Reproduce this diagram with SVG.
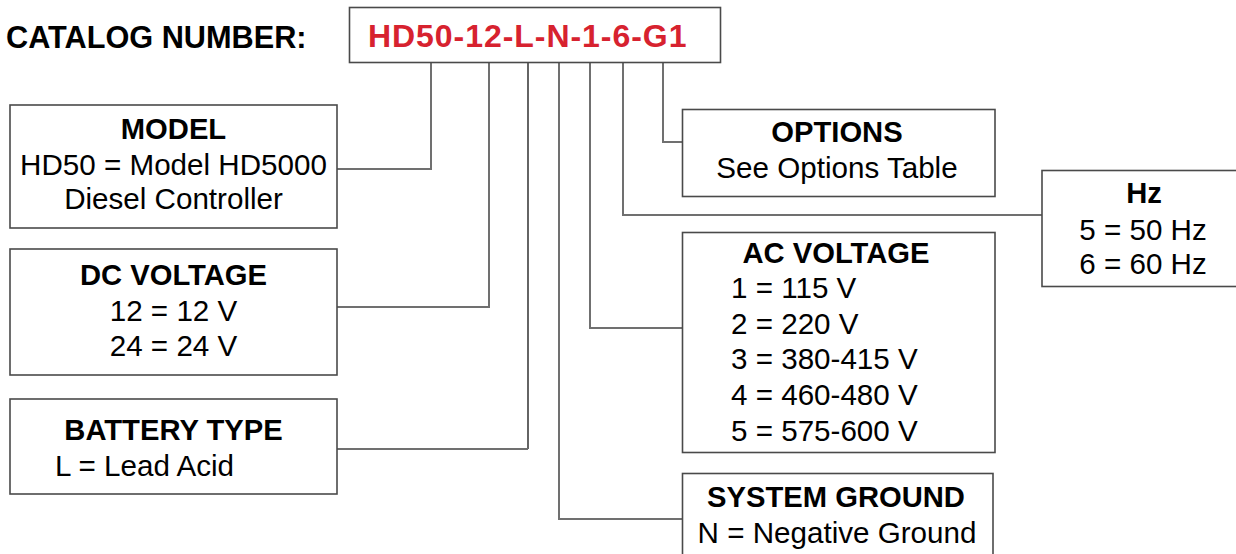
<svg xmlns="http://www.w3.org/2000/svg" width="1236" height="554" viewBox="0 0 1236 554">
<style>
.box{fill:#fff;stroke:#4a4a4a;stroke-width:1.6}
.con{fill:none;stroke:#707070;stroke-width:2}
.conk{fill:none;stroke:#111;stroke-width:1.3}
.h{font-family:"Liberation Sans",Arial,sans-serif;font-weight:bold;font-size:29.2px;fill:#000}
.t{font-family:"Liberation Sans",Arial,sans-serif;font-size:29.6px;fill:#000}
.c{text-anchor:middle}
</style>
<rect width="1236" height="554" fill="#fff"/>
<g id="connectors">
<polyline class="con" points="431,62 431,169 337,169"/>
<polyline class="con" points="489,62 489,307 337,307"/>
<polyline class="conk" points="528,62 528,449"/>
<line class="con" x1="528" y1="449" x2="337" y2="449"/>
<polyline class="con" points="559,62 559,519 682,519"/>
<polyline class="con" points="590,62 590,328 682,328"/>
<polyline class="con" points="623,62 623,215 1042,215"/>
<polyline class="con" points="663,62 663,142 682,142"/>
</g>
<g id="catalog">
<text class="h" x="6" y="48" style="font-size:30.7px">CATALOG NUMBER:</text>
<rect class="box" x="349.5" y="7.5" width="371" height="55"/>
<text x="368" y="47" style="font-family:'Liberation Sans',Arial,sans-serif;font-weight:bold;font-size:32px;letter-spacing:0.95px" fill="#d7222f">HD50-12-L-N-1-6-G1</text>
</g>
<g id="model">
<rect class="box" x="10" y="105" width="327" height="123"/>
<text class="h c" x="173.5" y="139">MODEL</text>
<text class="t c" x="173.5" y="175">HD50 = Model HD5000</text>
<text class="t c" x="173.5" y="209">Diesel Controller</text>
</g>
<g id="dc-voltage">
<rect class="box" x="10" y="249" width="327" height="126"/>
<text class="h c" x="173.5" y="285">DC VOLTAGE</text>
<text class="t c" x="173.5" y="321">12 = 12 V</text>
<text class="t c" x="173.5" y="356">24 = 24 V</text>
</g>
<g id="battery-type">
<rect class="box" x="10" y="399" width="327" height="95"/>
<text class="h c" x="173.5" y="440">BATTERY TYPE</text>
<text class="t" x="55" y="476">L = Lead Acid</text>
</g>
<g id="options">
<rect class="box" x="682.5" y="109.5" width="312.5" height="87"/>
<text class="h c" x="837" y="142">OPTIONS</text>
<text class="t c" x="837" y="178">See Options Table</text>
</g>
<g id="hz">
<rect class="box" x="1042" y="170.5" width="210" height="116"/>
<text class="h c" x="1144" y="203">Hz</text>
<text class="t c" x="1143" y="240">5 = 50 Hz</text>
<text class="t c" x="1143" y="274">6 = 60 Hz</text>
</g>
<g id="ac-voltage">
<rect class="box" x="682.5" y="232.5" width="312.5" height="220"/>
<text class="h c" x="836" y="263">AC VOLTAGE</text>
<text class="t" x="731" y="298">1 = 115 V</text>
<text class="t" x="731" y="334">2 = 220 V</text>
<text class="t" x="731" y="369">3 = 380-415 V</text>
<text class="t" x="731" y="405">4 = 460-480 V</text>
<text class="t" x="731" y="441">5 = 575-600 V</text>
</g>
<g id="system-ground">
<rect class="box" x="682.5" y="473.5" width="310.5" height="110"/>
<text class="h c" x="836" y="507">SYSTEM GROUND</text>
<text class="t c" x="837" y="543">N = Negative Ground</text>
</g>
</svg>
